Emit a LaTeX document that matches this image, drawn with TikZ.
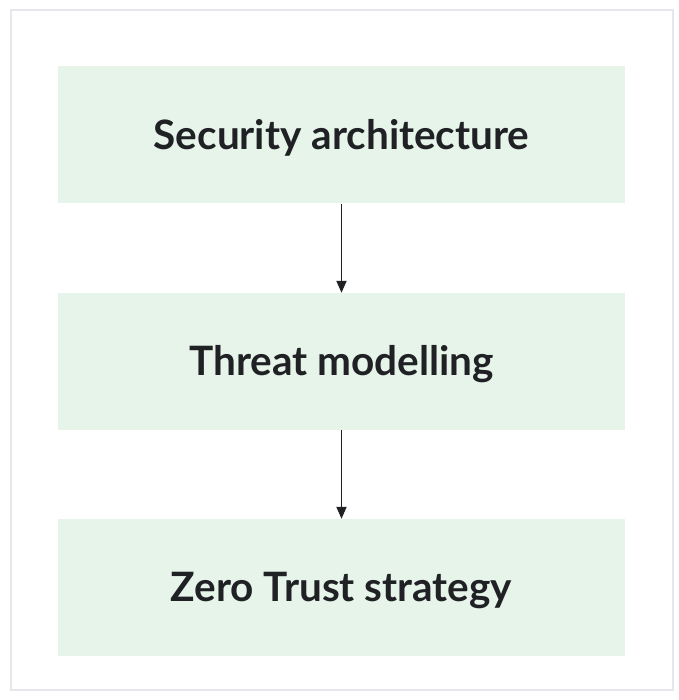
\documentclass[tikz,border=0pt]{standalone}
\usepackage{fontspec}
\setmainfont{Lato}
\usetikzlibrary{arrows.meta}
\definecolor{boxfill}{HTML}{E6F4EA}
\definecolor{ink}{HTML}{202124}
\definecolor{frame}{HTML}{E6E6EC}
\tikzset{
  stage/.style={fill=boxfill, draw=none, minimum width=567pt, minimum height=137pt,
    inner sep=0pt, text height=28.5pt, text depth=0pt,
    font=\fontsize{40.5}{46}\selectfont\bfseries, text=ink},
  flow/.style={draw=ink, line width=1.8pt, -{Triangle[length=12pt,width=10pt]}},
}
\begin{document}
\begin{tikzpicture}[x=1pt,y=-1pt]
  \useasboundingbox (0,0) rectangle (678,700);
  \fill[white] (0,0) rectangle (678,700);
  \draw[frame, line width=2pt] (11,10) rectangle (673,690);
  \node[stage] (sec) at (341.5,135) {Security architecture};
  \node[stage] (thr) at (341.5,361.5) {Threat modelling};
  \node[stage] (zt) at (341.5,587.5) {Zero Trust strategy};
  \draw[flow] (sec.south) -- (thr.north);
  \draw[flow] (thr.south) -- (zt.north);
\end{tikzpicture}
\end{document}
